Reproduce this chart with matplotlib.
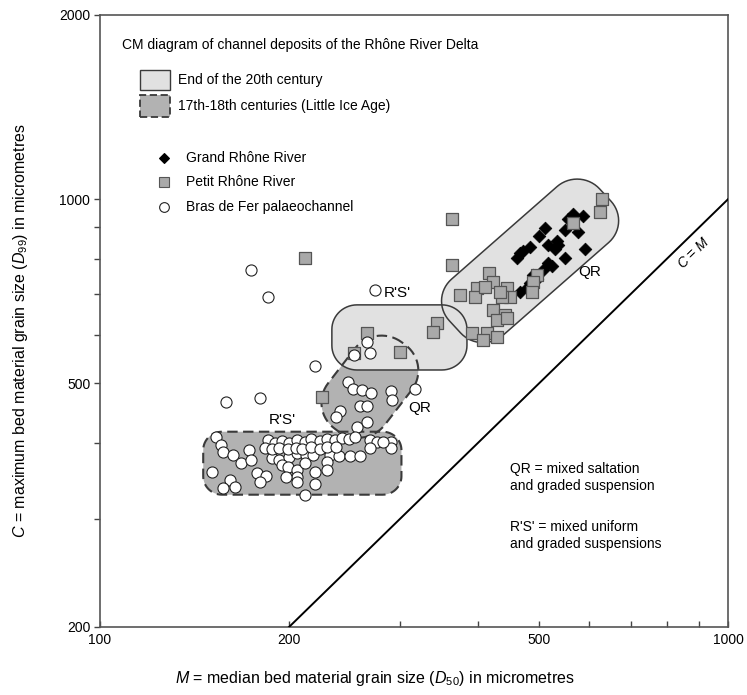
import numpy as np
import matplotlib
matplotlib.use("Agg")
import matplotlib.pyplot as plt
from matplotlib.patches import Rectangle, Polygon
from matplotlib.ticker import FixedLocator, FixedFormatter, NullFormatter

plt.rcParams['font.family'] = ['Liberation Sans', 'DejaVu Sans']
plt.rcParams['mathtext.fontset'] = 'custom'
plt.rcParams['mathtext.rm'] = 'Liberation Sans'
plt.rcParams['mathtext.it'] = 'Liberation Sans:italic'

# ---------------- data ----------------
x_ticks = [100, 200, 500, 1000]
x_tick_labels = ["100", "200", "500", "1000"]
x_minor = [300, 400, 600, 700, 800, 900]
y_ticks = [200, 500, 1000, 2000]
y_tick_labels = ["200", "500", "1000", "2000"]
y_minor = [300, 400, 600, 700, 800, 900]

# Grand Rhone River (M = D50, C = D99)
grand_M = [566, 587, 556, 551, 501, 534, 516, 536, 530, 483, 466, 591, 461, 550, 516,
           524, 507, 489, 496, 483, 478, 466, 471, 511, 576]
grand_C = [947, 940, 929, 891, 871, 855, 841, 841, 829, 834, 817, 829, 802, 802, 787,
           778, 766, 752, 741, 730, 716, 706, 822, 898, 884]

# Petit Rhone River
petit_M = [629, 625, 566, 364, 363, 212, 417, 422, 398, 374, 395, 410, 444, 449, 436,
           496, 489, 487, 422, 441, 428, 444, 391, 413, 428, 407, 344, 339, 266, 254,
           300, 226, 433]
petit_C = [1000, 954, 915, 929, 781, 802, 758, 733, 716, 698, 693, 719, 716, 693, 693,
           752, 733, 706, 659, 647, 635, 640, 605, 605, 596, 589, 628, 607, 605, 561,
           563, 475, 706]

# Bras de Fer palaeochannel
bras_M = [174, 185, 274, 159, 180, 220, 317,
          266, 269, 254, 248, 253, 261, 270, 291, 292, 259, 266, 241, 238, 266, 257,
          153, 156, 157, 163, 173, 168, 174, 151, 161, 157, 164, 178, 184, 180, 188,
          193, 200, 206, 213, 218, 232, 240, 250, 259, 195, 199, 206, 212, 220, 230,
          230, 206, 220, 212, 269, 276, 269, 291, 291, 198, 206, 282,
          185, 190, 195, 200, 206, 212, 217, 224, 230, 237, 243, 249, 255,
          183, 188, 193, 199, 205, 210, 217, 224, 230, 238]
bras_C = [766, 692, 711, 466, 474, 534, 490,
          585, 561, 556, 503, 490, 488, 483, 486, 470, 460, 460, 451, 441, 433, 425,
          409, 397, 386, 382, 389, 371, 375, 358, 348, 338, 339, 357, 353, 345, 378,
          375, 379, 385, 382, 382, 382, 380, 380, 380, 368, 365, 361, 371, 358, 372,
          361, 352, 342, 329, 404, 401, 392, 401, 392, 352, 345, 401,
          404, 399, 403, 400, 404, 401, 405, 402, 406, 404, 407, 405, 409,
          392, 390, 392, 390, 392, 391, 393, 391, 394, 393]

# Envelopes (M range, C range) and tilted envelopes (centre M, centre C)
light_rs_M = [234, 384]
light_rs_C = [526, 672]
dark_rs_M = [146, 302]
dark_rs_C = [329, 417]
light_qr_centre = [484, 793]
dark_qr_centre = [269, 494]

LIGHT = "#e1e1e1"
DARK = "#b2b2b2"
EDGE = "#3a3a3a"
DASH = (0, (5, 2.6))


def rounded_box(cx, cy, L, W, r, ang, n=16):
    """Rounded rectangle in log10 space, returns data coordinates."""
    hx, hy = L / 2 - r, W / 2 - r
    pts = []
    for sx, sy, a0 in [(1, 1, 0), (-1, 1, 90), (-1, -1, 180), (1, -1, 270)]:
        t = np.radians(np.linspace(a0, a0 + 90, n))
        pts.append(np.column_stack([sx * hx + r * np.cos(t), sy * hy + r * np.sin(t)]))
    p = np.vstack(pts)
    a = np.radians(ang)
    R = np.array([[np.cos(a), -np.sin(a)], [np.sin(a), np.cos(a)]])
    p = p @ R.T
    return np.column_stack([10 ** (p[:, 0] + cx), 10 ** (p[:, 1] + cy)])


def box_from_ranges(Mr, Cr, r):
    cx = np.log10(np.sqrt(Mr[0] * Mr[1]))
    cy = np.log10(np.sqrt(Cr[0] * Cr[1]))
    return rounded_box(cx, cy, np.log10(Mr[1] / Mr[0]), np.log10(Cr[1] / Cr[0]), r, 0)


fig = plt.figure(figsize=(7.47, 6.95), dpi=100)
ax = fig.add_axes([100 / 747, 1 - 627 / 695, 628 / 747, 612 / 695])
ax.set_xscale('log')
ax.set_yscale('log')
ax.set_xlim(100, 1000)
ax.set_ylim(200, 2000)

# envelopes
dark_rs = box_from_ranges(dark_rs_M, dark_rs_C, 0.03)
dark_qr = rounded_box(np.log10(dark_qr_centre[0]), np.log10(dark_qr_centre[1]),
                      0.177, 0.113, 0.053, 53)
light_rs = box_from_ranges(light_rs_M, light_rs_C, 0.04)
light_qr = rounded_box(np.log10(light_qr_centre[0]), np.log10(light_qr_centre[1]),
                       0.322, 0.123, 0.048, 42)

for poly in (dark_rs, dark_qr):
    ax.add_patch(Polygon(poly, closed=True, fc=DARK, ec='none', zorder=1))
for poly in (light_rs, light_qr):
    ax.add_patch(Polygon(poly, closed=True, fc=LIGHT, ec='none', zorder=2))
for poly in (light_rs, light_qr):
    ax.add_patch(Polygon(poly, closed=True, fill=False, ec=EDGE, lw=1.1, zorder=3))
for poly in (dark_rs, dark_qr):
    ax.add_patch(Polygon(poly, closed=True, fill=False, ec=EDGE, lw=1.5,
                         linestyle=DASH, zorder=3))

# C = M line
ax.plot([200, 1000], [200, 1000], color='black', lw=1.4, zorder=4)
p1 = ax.transData.transform((200, 200))
p2 = ax.transData.transform((1000, 1000))
ang = np.degrees(np.arctan2(p2[1] - p1[1], p2[0] - p1[0]))
ax.annotate(r"$\it{C}$ = $\it{M}$", xy=(850, 850), xytext=(7.5, -7.5),
            textcoords='offset points', rotation=ang, ha='center', va='center',
            fontsize=10, zorder=4)

# points
ax.scatter(grand_M, grand_C, marker='D', s=42, c='black', edgecolors='black',
           linewidths=0.5, zorder=5)
ax.scatter(petit_M, petit_C, marker='s', s=72, c='#a9a9a9', edgecolors='#555555',
           linewidths=0.9, zorder=6)
ax.scatter(bras_M, bras_C, marker='o', s=64, c='white', edgecolors='#222222',
           linewidths=0.8, zorder=7)

# region labels
ax.text(297, 703, "R'S'", fontsize=11, ha='center', va='center', zorder=8)
ax.text(602, 760, "QR", fontsize=11, ha='center', va='center', zorder=8)
ax.text(323, 456, "QR", fontsize=11, ha='center', va='center', zorder=8)
ax.text(195, 436, "R'S'", fontsize=11, ha='center', va='center', zorder=8)

# title and legend
ax.text(0.035, 0.951, "CM diagram of channel deposits of the Rhône River Delta",
        transform=ax.transAxes, fontsize=10, ha='left', va='center')
ax.add_patch(Rectangle((0.064, 0.877), 0.047, 0.033, transform=ax.transAxes,
                       fc=LIGHT, ec=EDGE, lw=1.0, zorder=3))
ax.add_patch(Rectangle((0.064, 0.834), 0.047, 0.035, transform=ax.transAxes,
                       fc=DARK, ec=EDGE, lw=1.3, linestyle=(0, (4, 2)), zorder=3))
ax.text(0.124, 0.894, "End of the 20th century", transform=ax.transAxes,
        fontsize=10, ha='left', va='center')
ax.text(0.124, 0.851, "17th-18th centuries (Little Ice Age)", transform=ax.transAxes,
        fontsize=10, ha='left', va='center')

leg_items = [("D", 'black', 'black', 5.5, "Grand Rhône River", 0.766),
             ("s", '#a9a9a9', '#555555', 7, "Petit Rhône River", 0.727),
             ("o", 'white', '#222222', 7, "Bras de Fer palaeochannel", 0.686)]
for mk, fc, ec, ms, lab, yy in leg_items:
    ax.plot([0.102], [yy], marker=mk, ms=ms, mfc=fc, mec=ec, mew=0.8,
            transform=ax.transAxes, linestyle='none', zorder=6)
    ax.text(0.137, yy, lab, transform=ax.transAxes, fontsize=10, ha='left', va='center')

ax.text(0.653, 0.27, "QR = mixed saltation\nand graded suspension",
        transform=ax.transAxes, fontsize=10, ha='left', va='top', linespacing=1.25)
ax.text(0.653, 0.175, "R'S' = mixed uniform\nand graded suspensions",
        transform=ax.transAxes, fontsize=10, ha='left', va='top', linespacing=1.25)

# axes styling
ax.xaxis.set_major_locator(FixedLocator(x_ticks))
ax.xaxis.set_major_formatter(FixedFormatter(x_tick_labels))
ax.xaxis.set_minor_locator(FixedLocator(x_minor))
ax.xaxis.set_minor_formatter(NullFormatter())
ax.yaxis.set_major_locator(FixedLocator(y_ticks))
ax.yaxis.set_major_formatter(FixedFormatter(y_tick_labels))
ax.yaxis.set_minor_locator(FixedLocator(y_minor))
ax.yaxis.set_minor_formatter(NullFormatter())
ax.tick_params(axis='both', which='both', labelsize=10, color='#444444', width=1.0)
ax.tick_params(axis='x', which='both', direction='in', length=4, pad=4)
ax.tick_params(axis='y', which='both', direction='out', length=4, pad=3)
for sp in ax.spines.values():
    sp.set_color('#555555')
    sp.set_linewidth(1.2)

ax.set_xlabel(r"$\it{M}$ = median bed material grain size ($\it{D}_{\rm 50}$) in micrometres",
              fontsize=11.5)
ax.set_ylabel(r"$\it{C}$ = maximum bed material grain size ($\it{D}_{\rm 99}$) in micrometres",
              fontsize=11.5)
ax.xaxis.set_label_coords(0.438, -0.068)
ax.yaxis.set_label_coords(-0.112, 0.484)

fig.savefig("out.png", dpi=100)
